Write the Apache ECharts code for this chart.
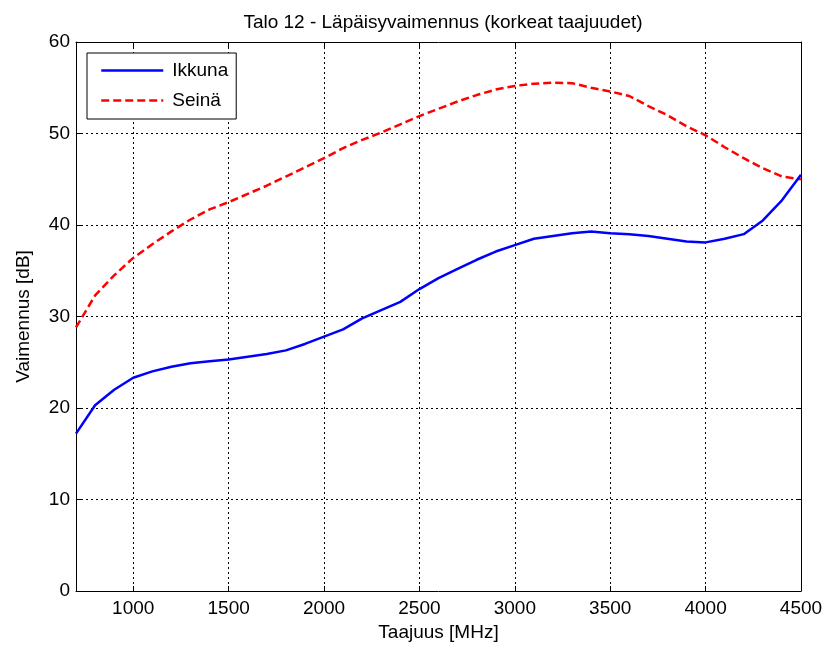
<!DOCTYPE html>
<html>
<head>
<meta charset="utf-8">
<script src="https://cdn.jsdelivr.net/npm/echarts@6/dist/echarts.min.js"></script>
<style>html,body{margin:0;padding:0;background:#fff;}#c{width:828px;height:653px;}</style>
</head>
<body>
<div id="c"></div>
<script>
var titleText = 'Talo 12 - Läpäisyvaimennus (korkeat taajuudet)';
var xName = 'Taajuus [MHz]';
var yName = 'Vaimennus [dB]';
var seriesNames = ['Ikkuna', 'Seinä'];
var freq = [700,800,900,1000,1100,1200,1300,1400,1500,1600,1700,1800,1900,2000,2100,2200,2300,2400,2500,2600,2700,2800,2900,3000,3100,3200,3300,3400,3500,3600,3700,3800,3900,4000,4100,4200,4300,4400,4500];
var ikkuna = [17.2,20.3,22.0,23.3,24.0,24.5,24.9,25.1,25.3,25.6,25.9,26.3,27.0,27.8,28.6,29.8,30.7,31.6,33.0,34.2,35.2,36.2,37.1,37.8,38.5,38.8,39.1,39.3,39.1,39.0,38.8,38.5,38.2,38.1,38.5,39.0,40.5,42.7,45.5];
var seina = [28.8,32.3,34.5,36.4,37.9,39.3,40.6,41.7,42.5,43.4,44.3,45.3,46.3,47.3,48.4,49.3,50.1,51.0,51.9,52.7,53.5,54.2,54.8,55.2,55.45,55.55,55.5,55.0,54.6,54.1,53.0,52.0,50.8,49.8,48.5,47.3,46.2,45.3,45.0];
var xTicks = [1000,1500,2000,2500,3000,3500,4000,4500];
var yTicks = [0,10,20,30,40,50,60];

function pairs(xs, ys){ return xs.map(function(x,i){ return [x, ys[i]]; }); }
function plain(v){ return String(v); }

var font = 'Liberation Sans, Arial, sans-serif';
var fs = 19;
var gridLine = {show:true, lineStyle:{color:'#000', type:[2,3], width:1}};
var chart = echarts.init(document.getElementById('c'), null, {renderer:'canvas'});
chart.setOption({
  animation:false,
  backgroundColor:'#fff',
  title:{text:titleText, left:438, textAlign:'center', top:8,
    textStyle:{fontFamily:font, fontSize:fs, fontWeight:'normal', color:'#000'}},
  legend:{orient:'vertical', left:87, top:53, padding:[8,8,9,13], itemGap:11,
    itemWidth:62, itemHeight:14, backgroundColor:'#fff', borderColor:'#000', borderWidth:1, borderRadius:0,
    itemStyle:{color:'transparent', borderColor:'transparent', borderWidth:0, opacity:0},
    lineStyle:{width:2.5},
    textStyle:{fontFamily:font, fontSize:fs, color:'#000', padding:[0,0,0,4]},
    data:seriesNames},
  grid:{left:76, right:27, top:42, bottom:62, containLabel:false},
  xAxis:[{type:'value', min:700, max:4500, position:'bottom',
    name:xName, nameLocation:'middle', nameGap:26,
    nameTextStyle:{fontFamily:font, fontSize:fs, color:'#000'},
    axisLine:{show:true, onZero:false, lineStyle:{color:'#000', width:1}},
    axisTick:{show:true, inside:true, length:5, customValues:xTicks, lineStyle:{color:'#000'}},
    axisLabel:{customValues:xTicks, formatter:plain, margin:8, fontFamily:font, fontSize:fs, color:'#000'},
    splitLine:gridLine},
   {type:'value', min:700, max:4500, position:'top',
    axisLine:{show:true, onZero:false, lineStyle:{color:'#000', width:1}},
    axisTick:{show:true, inside:true, length:5, customValues:xTicks, lineStyle:{color:'#000'}},
    axisLabel:{show:false}, splitLine:{show:false}}],
  yAxis:[{type:'value', min:0, max:60, interval:10, position:'left',
    name:yName, nameLocation:'middle', nameGap:43,
    nameTextStyle:{fontFamily:font, fontSize:fs, color:'#000'},
    axisLine:{show:true, onZero:false, lineStyle:{color:'#000', width:1}},
    axisTick:{show:true, inside:true, length:5, lineStyle:{color:'#000'}},
    axisLabel:{margin:6, formatter:plain, fontFamily:font, fontSize:fs, color:'#000'},
    splitLine:gridLine},
   {type:'value', min:0, max:60, interval:10, position:'right',
    axisLine:{show:true, onZero:false, lineStyle:{color:'#000', width:1}},
    axisTick:{show:true, inside:true, length:5, lineStyle:{color:'#000'}},
    axisLabel:{show:false}, splitLine:{show:false}}],
  series:[
    {name:seriesNames[0], type:'line', data:pairs(freq, ikkuna), showSymbol:false, symbol:'none',
     lineStyle:{color:'#0000ff', width:2.5}, itemStyle:{color:'#0000ff'}, z:3},
    {name:seriesNames[1], type:'line', data:pairs(freq, seina), showSymbol:false, symbol:'none',
     lineStyle:{color:'#ff0000', width:2.5, type:[8,4]}, itemStyle:{color:'#ff0000'}, z:2}
  ]
});
</script>
</body>
</html>
